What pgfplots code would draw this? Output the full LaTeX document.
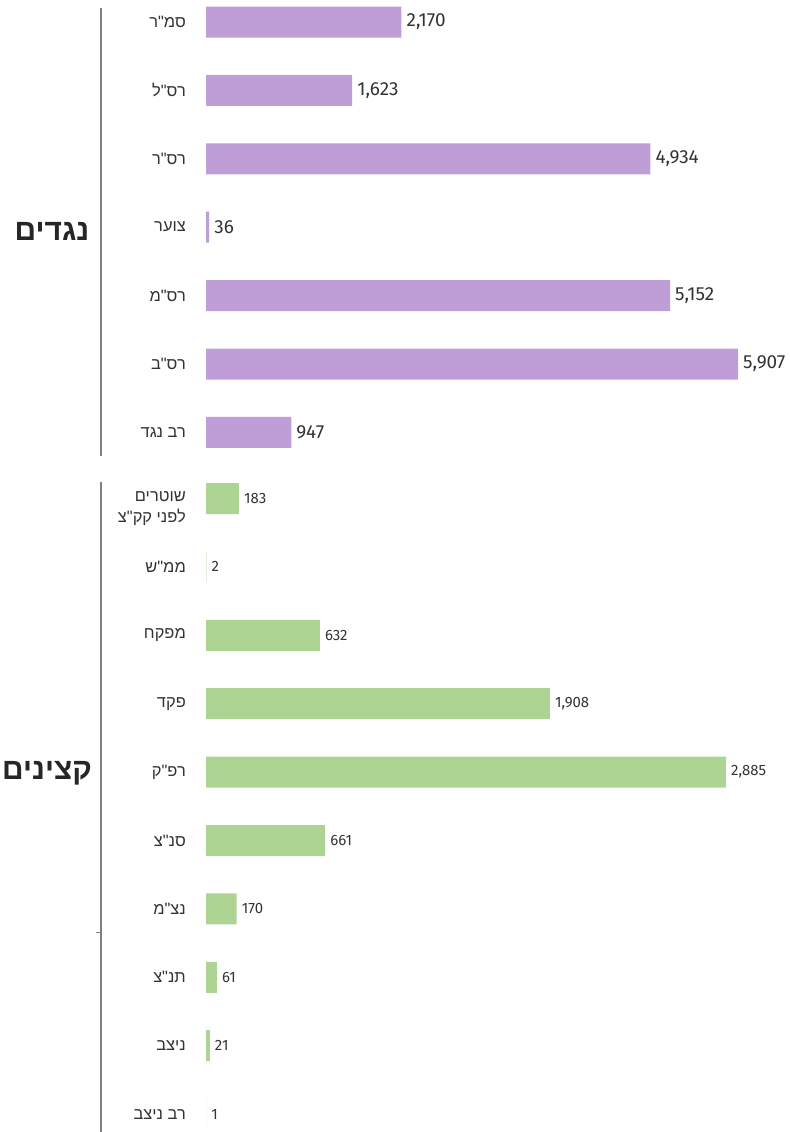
\documentclass[border=0pt]{standalone}
\usepackage{fontspec}
\setmainfont{Fira Sans}
\newfontfamily\hebfont[Script=Hebrew]{Liberation Sans}
\usepackage{pgfplots}
\pgfplotsset{compat=1.18}
\TeXXeTstate=1
\definecolor{nagad}{RGB}{191,158,215}
\definecolor{katzin}{RGB}{174,212,148}
\definecolor{txt}{RGB}{51,51,51}
\definecolor{rulegray}{RGB}{128,128,128}

% two-line right-aligned label, pushed down a bit like the original
\newcommand\twoline[2]{\vbox{\kern20bp\baselineskip=21bp\halign{\hfil##\cr#1\cr#2\cr}}}

% shared look of both rank groups
\pgfplotsset{rankbars/.style={
    xbar, scale only axis, clip=false,
    axis x line=none, xtick=\empty,
    axis y line*=left, y axis line style={draw=none}, major tick length=0pt,
    y dir=reverse, ytick=data, ymin=-0.5, xmin=0,
    bar width=31bp,
    yticklabel style={font=\hebfont\fontsize{16.5}{20}\selectfont, text=txt,
        anchor=east, inner sep=0pt, xshift=-20bp},
    nodes near coords,
    nodes near coords style={anchor=west, inner sep=0pt, xshift=5bp, text=txt,
        /pgf/number format/1000 sep={,},
        /pgf/number format/assume math mode=true},
}}

\begin{document}
\begin{tikzpicture}
\useasboundingbox (0,0) rectangle (790bp,-1132bp);

% top group: NCOs
\begin{axis}[rankbars,
    at={(206bp,12.2bp)}, anchor=north west,
    width=532bp, height=478.8bp,
    xmax=5907, ymax=6.5,
    yticklabels={{\beginR סמ"ר\endR},{\beginR רס"ל\endR},{\beginR רס"ר\endR},
        {\beginR צוער\endR},{\beginR רס"מ\endR},{\beginR רס"ב\endR},{\beginR רב נגד\endR}},
    nodes near coords style={font=\fontsize{19}{22}\selectfont},
]
\addplot[fill=nagad, draw=none] coordinates {
    (2170,0) (1623,1) (4934,2) (36,3) (5152,4) (5907,5) (947,6)
};
\end{axis}

% bottom group: officers
\begin{axis}[rankbars,
    at={(206bp,-464.3bp)}, anchor=north west,
    width=520bp, height=684bp,
    xmax=2885, ymax=9.5,
    yticklabels={{\twoline{\beginR שוטרים\endR}{\beginR לפני קק"צ\endR}},{\beginR ממ"ש\endR},
        {\beginR מפקח\endR},{\beginR פקד\endR},{\beginR רפ"ק\endR},{\beginR סנ"צ\endR},
        {\beginR נצ"מ\endR},{\beginR תנ"צ\endR},{\beginR ניצב\endR},{\beginR רב ניצב\endR}},
    nodes near coords style={font=\fontsize{15}{18}\selectfont},
]
\addplot[fill=katzin, draw=none] coordinates {
    (183,0) (2,1) (632,2) (1908,3) (2885,4) (661,5) (170,6) (61,7) (21,8) (1,9)
};
\end{axis}

% group brackets and titles
\draw[rulegray, line width=1.5bp] (101bp,-8bp) -- (101bp,-456bp);
\draw[rulegray, line width=1.5bp] (101bp,-482bp) -- (101bp,-1132bp);
\draw[rulegray, line width=0.8bp] (96bp,-932bp) -- (101bp,-932bp);
\node[font=\hebfont\bfseries\fontsize{30}{33}\selectfont, text=black!85] at (52bp,-231bp) {\beginR נגדים\endR};
\node[font=\hebfont\bfseries\fontsize{30}{33}\selectfont, text=black!85] at (47bp,-773bp) {\beginR קצינים\endR};
\end{tikzpicture}
\end{document}
